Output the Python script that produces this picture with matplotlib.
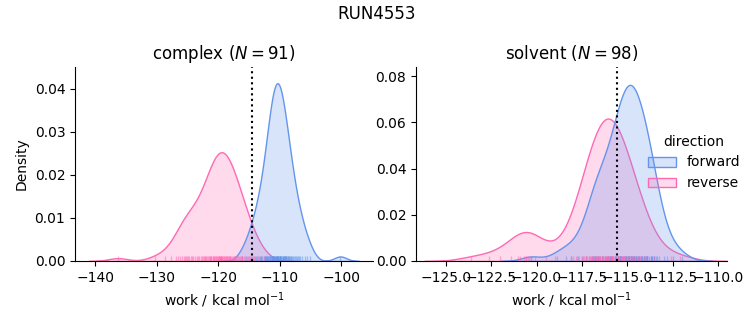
import numpy as np
import pandas as pd
import matplotlib
matplotlib.use("Agg")
import matplotlib.pyplot as plt
import seaborn as sns

title = "RUN4553"
phases = ["complex", "solvent"]
n_samples = {"complex": 91, "solvent": 98}
free_energy = {"complex": -114.5, "solvent": -115.55}
palette = {"forward": "cornflowerblue", "reverse": "hotpink"}

complex_forward = [
    -116.1, -115.4, -114.9, -114.6, -114.3, -114.0, -113.8, -113.6, -113.4, -113.2,
    -113.1, -113.0, -112.9,
    -112.5, -112.4, -112.3, -112.2, -112.2, -112.1, -112.0, -111.9, -111.9,
    -111.7, -111.6, -111.5, -111.5, -111.4, -111.3, -111.3, -111.2, -111.1, -111.1,
    -111.05, -111.0, -110.9, -110.9, -110.8, -110.75,
    -110.7, -110.6, -110.6, -110.5, -110.5, -110.4, -110.4, -110.3, -110.3,
    -110.2, -110.2, -110.1, -110.0, -110.0, -109.95, -109.9, -109.9, -109.8,
    -109.7, -109.6, -109.5, -109.5, -109.4, -109.3, -109.3, -109.2, -109.1,
    -109.1, -109.0, -108.9, -108.9, -108.8,
    -108.7, -108.6, -108.5, -108.4, -108.3, -108.2, -108.1, -108.0, -107.8,
    -107.7, -107.5, -107.3, -107.1, -107.0, -106.9,
    -106.6, -106.3, -105.9,
    -105.5, -105.0,
    -100.1,
]

complex_reverse = [
    -136.3, -130.3, -128.6, -127.6,
    -126.9, -126.5, -126.2,
    -125.9, -125.6, -125.4, -125.2, -125.1,
    -124.9, -124.7, -124.5, -124.3, -124.1,
    -123.8, -123.5, -123.3, -123.1,
    -122.8, -122.6, -122.5, -122.3, -122.2, -122.1,
    -121.9, -121.8, -121.6, -121.5, -121.4, -121.3, -121.2, -121.1,
    -120.9, -120.8, -120.7, -120.6, -120.5, -120.4, -120.3, -120.2, -120.1, -120.0,
    -119.9, -119.8, -119.7, -119.7, -119.6, -119.5, -119.5, -119.4, -119.3, -119.2, -119.1,
    -119.0,
    -118.9, -118.8, -118.7, -118.6, -118.5, -118.4, -118.3, -118.2, -118.1, -118.0,
    -117.9, -117.7, -117.6, -117.5, -117.4, -117.3, -117.2, -117.1,
    -116.9, -116.7, -116.6, -116.4, -116.3, -116.2, -116.1,
    -115.8, -115.6, -115.3, -115.1,
    -114.8, -114.5, -114.2,
    -113.5,
    -112.6,
]

solvent_forward = [
    -120.3, -118.9, -118.4, -118.1, -117.7, -117.5, -117.3,
    -117.0, -116.95, -116.9, -116.86, -116.8, -116.77, -116.7, -116.68, -116.6, -116.59,
    -116.50, -116.41, -116.32, -116.23, -116.14, -116.14,
    -116.05, -115.96, -115.96, -115.87, -115.87, -115.78, -115.69, -115.69,
    -115.60, -115.60, -115.51, -115.51, -115.51, -115.42, -115.42, -115.42,
    -115.33, -115.33, -115.33, -115.24, -115.24,
    -115.15, -115.15, -115.06, -115.06, -115.06, -114.97, -114.97, -114.97,
    -114.88, -114.88, -114.88, -114.79, -114.79, -114.79, -114.79, -114.75,
    -114.70, -114.70, -114.61, -114.61, -114.61, -114.52, -114.52, -114.52,
    -114.43, -114.43, -114.34, -114.34,
    -114.25, -114.25, -114.16, -114.16, -114.07, -114.07, -114.07,
    -113.98, -113.98, -113.89, -113.89, -113.89,
    -113.80, -113.71, -113.71, -113.62, -113.62, -113.53, -113.53, -113.44,
    -113.35, -113.26, -112.99,
    -112.81, -112.50,
    -112.00,
]

solvent_reverse = [
    -123.6, -122.6, -122.0, -121.4, -121.0, -120.9,
    -120.7, -120.6, -120.6, -120.5, -120.4, -120.3, -120.1,
    -119.5, -119.0,
    -118.08, -118.00, -117.84,
    -117.76, -117.68, -117.52, -117.44,
    -117.36, -117.28, -117.28, -117.20, -117.12, -117.12, -117.04,
    -116.96, -116.96, -116.88, -116.88, -116.80, -116.80, -116.72, -116.72, -116.64, -116.64,
    -116.56, -116.56, -116.48, -116.48, -116.40, -116.40, -116.32, -116.32,
    -116.24, -116.24, -116.24,
    -116.16, -116.16, -116.08, -116.08, -116.00, -116.00, -116.00, -115.92, -115.92,
    -115.90, -115.84, -115.84, -115.84,
    -115.76, -115.76, -115.68, -115.68, -115.60, -115.52, -115.52, -115.44, -115.44,
    -115.36, -115.36, -115.28, -115.28, -115.20, -115.20, -115.12, -115.12, -115.04,
    -114.96, -114.88, -114.80, -114.80, -114.72, -114.64,
    -114.56, -114.48, -114.40, -114.32, -114.24,
    -114.08, -114.00, -113.92,
    -113.52,
    -112.60, -112.10,
]

frames = []
for phase, direction, vals in [
    ("complex", "forward", complex_forward),
    ("complex", "reverse", complex_reverse),
    ("solvent", "forward", solvent_forward),
    ("solvent", "reverse", solvent_reverse),
]:
    frames.append(pd.DataFrame({"work": vals, "direction": direction, "phase": phase}))
df = pd.concat(frames, ignore_index=True)

g = sns.displot(
    data=df, x="work", hue="direction", col="phase", kind="kde",
    fill=True, rug=True, palette=palette, col_order=phases,
    hue_order=["forward", "reverse"],
    rug_kws=dict(alpha=0.5),
    facet_kws=dict(sharex=False, sharey=False),
)
fig = g.figure
fig.set_size_inches(7.53, 3.25)
fig.set_dpi(100)

positions = [[75 / 753, 1 - 261 / 325, 298 / 753, 194 / 325],
             [416 / 753, 1 - 261 / 325, 311 / 753, 194 / 325]]
for ax, phase, pos in zip(g.axes.flat, phases, positions):
    ax.set_position(pos)
    ax.axvline(free_energy[phase], color="k", ls=":")
    ax.set_title(f"{phase} ($N={n_samples[phase]}$)")
    ax.set_xlabel("work / kcal mol$^{-1}$")

g.axes.flat[0].set_xlim(-143.3, -94.8)
g.axes.flat[1].set_xlim(-126.65, -109.5)
g.axes.flat[0].set_ylim(0, 0.045)
g.axes.flat[1].set_ylim(0, 0.084)
g.axes.flat[1].set_ylabel("")
g.axes.flat[0].set_ylabel("Density")

leg = g._legend
leg.set_bbox_to_anchor((1.0, 0.5), transform=fig.transFigure)
fig.suptitle(title, y=0.985)

fig.savefig("out.png", dpi=100)
